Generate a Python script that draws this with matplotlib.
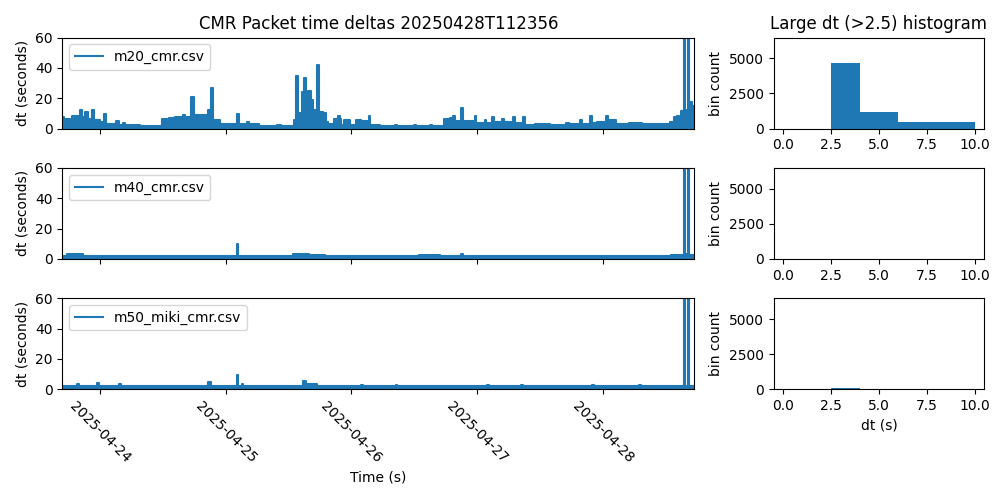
import numpy as np
import pandas as pd
import matplotlib
matplotlib.use("Agg")
import matplotlib.pyplot as plt
import matplotlib.dates as mdates

# start of the time axis and its length in hours
t0 = pd.Timestamp("2025-04-23 16:54")
span_h = 120.48

# m20_cmr.csv : change points (hours from t0) and dt envelope (s)
m20_h = [0, 0.4, 1.8, 2.5, 3.4, 3.8, 4.4, 4.8, 5.6, 6.0, 7.2, 8.0, 8.4, 10.3, 10.8,
         11.6, 12.0, 14.7, 18.9, 20.4, 21.5, 23.0, 23.4, 24.6, 25.0, 26.2, 27.7, 28.1,
         28.3, 28.7, 30.1, 33.3, 33.6, 35.2, 35.5, 37.5, 41.0, 41.6, 44.1, 44.6, 45.0,
         45.6, 46.0, 46.4, 46.9, 47.3, 47.8, 48.6, 48.9, 49.6, 50.3, 50.7, 51.7, 52.6,
         52.9, 53.2, 53.6, 54.8, 56.0, 57.0, 58.4, 58.7, 60.5, 63.4, 63.8, 67.0, 67.4,
         70.0, 70.4, 72.7, 73.8, 74.5, 74.9, 76.0, 76.3, 78.6, 78.9, 80.5, 80.8, 81.9,
         82.2, 83.8, 84.2, 85.9, 86.2, 87.8, 88.1, 90.0, 93.0, 96.0, 96.5, 98.7, 99.0,
         100.6, 100.9, 102.0, 103.7, 104.0, 105.5, 108.0, 110.5, 112.0, 115.8, 116.6,
         117.2, 117.6, 118.0, 118.55, 118.75, 119.3, 119.5, 120.1, 120.48]
m20_dt = [7.5, 6.3, 8.5, 8.0, 12, 7.5, 11, 6, 12.3, 5.5, 4, 9.5, 3, 5, 2.5,
          3.7, 2.3, 1.6, 6.6, 7.2, 7.7, 9.2, 7.7, 21, 8.6, 9.2, 12.5, 8.6,
          26.7, 5.8, 3.2, 9.5, 3.3, 4.5, 3.0, 1.8, 2.3, 1.5, 5.5, 34.5, 10,
          24, 33, 22, 25, 19, 12, 42, 11, 10, 4.4, 3.3, 6.6, 8,
          6, 2.2, 5.5, 2.2, 5.5, 5, 8, 2.2, 1.6, 2.6, 1.6, 2.4, 1.8,
          2.6, 2.0, 6, 7, 8.5, 5, 13.5, 4.8, 8.5, 3.7, 5.5, 3.7, 7.6,
          4.1, 6.3, 4.1, 7.6, 3.5, 7.6, 2.6, 3.0, 2.6, 3.5, 2.8, 5.9, 3.0,
          8.5, 3.5, 4.0, 8.5, 5.9, 3.0, 3.5, 2.8, 3.0, 4.6, 7.5,
          8.4, 6.2, 11.5, 200, 12, 200, 17.5, 15, 15]

# m40_cmr.csv
m40_h = [0, 0.8, 4.0, 12.0, 33.2, 33.5, 44.0, 47.0, 50.0, 68.0, 72.0, 76.0, 76.4,
         100.0, 112.0, 116.0, 118.55, 118.75, 119.3, 119.5, 120.48]
m40_dt = [2.2, 3.0, 2.2, 2.0, 9.8, 2.0, 3.2, 2.3, 2.0, 2.4, 2.0, 3.0, 2.0,
          2.2, 2.0, 2.8, 200, 3.0, 200, 2.8, 2.8]

# m50_miki_cmr.csv
m50_h = [0, 2.8, 3.2, 6.6, 7.0, 10.8, 11.2, 27.8, 28.3, 33.2, 33.5, 34.2, 34.5,
         45.9, 46.4, 48.5, 57.0, 57.3, 63.5, 63.8, 81.0, 81.3, 87.5, 87.8, 101.0,
         101.3, 110.0, 110.3, 118.55, 118.75, 119.3, 119.5, 120.48]
m50_dt = [2.5, 3.3, 2.5, 4.0, 2.5, 3.2, 2.5, 4.6, 2.5, 9.2, 2.5, 3.5, 2.5,
          5.5, 3.7, 2.5, 3.0, 2.5, 3.0, 2.5, 3.0, 2.5, 3.0, 2.5, 3.0,
          2.5, 3.0, 2.5, 200, 2.5, 200, 2.5, 2.5]

# histogram of large dt
bin_edges = [0, 2.5, 4, 6, 10]
m20_counts = [0, 4670, 1200, 495]
m40_counts = [0, 0, 0, 0]
m50_counts = [0, 60, 0, 0]

series = [
    ("m20_cmr.csv", m20_h, m20_dt, m20_counts),
    ("m40_cmr.csv", m40_h, m40_dt, m40_counts),
    ("m50_miki_cmr.csv", m50_h, m50_dt, m50_counts),
]


def to_time(hours):
    return t0 + pd.to_timedelta(np.array(hours), unit="h")


fig = plt.figure(figsize=(10, 5), dpi=100)
gs = fig.add_gridspec(3, 2, width_ratios=[3, 1], left=0.0624, right=0.9843,
                      top=0.925, bottom=0.2214, wspace=0.188, hspace=0.432)

left_axes = []
right_axes = []
for i, (name, hours, dt, counts) in enumerate(series):
    ax = fig.add_subplot(gs[i, 0], sharex=left_axes[0] if left_axes else None)
    hx = fig.add_subplot(gs[i, 1], sharey=right_axes[0] if right_axes else None)
    left_axes.append(ax)
    right_axes.append(hx)

    t = to_time(hours)
    ax.fill_between(t, dt, step="post", color="C0", linewidth=0)
    ax.plot(t, dt, drawstyle="steps-post", color="C0", label=name)
    ax.set_ylim(0, 60)
    ax.set_ylabel("dt (seconds)")
    ax.legend(loc="upper left")

    hx.hist(bin_edges[:-1], bins=bin_edges, weights=counts, color="C0")
    hx.set_ylabel("bin count")

# time axis
left_axes[0].set_xlim(t0, t0 + pd.Timedelta(hours=span_h))
left_axes[0].xaxis.set_major_locator(mdates.DayLocator())
left_axes[0].xaxis.set_major_formatter(mdates.DateFormatter("%Y-%m-%d"))
for ax in left_axes[:-1]:
    ax.tick_params(labelbottom=False)
plt.setp(left_axes[-1].get_xticklabels(), rotation=-45)
left_axes[-1].set_xlabel("Time (s)")
left_axes[0].set_title("CMR Packet time deltas 20250428T112356")

right_axes[0].set_ylim(0, 6490)
right_axes[0].set_title("Large dt (>2.5) histogram")
right_axes[-1].set_xlabel("dt (s)")

fig.savefig("out.png")
